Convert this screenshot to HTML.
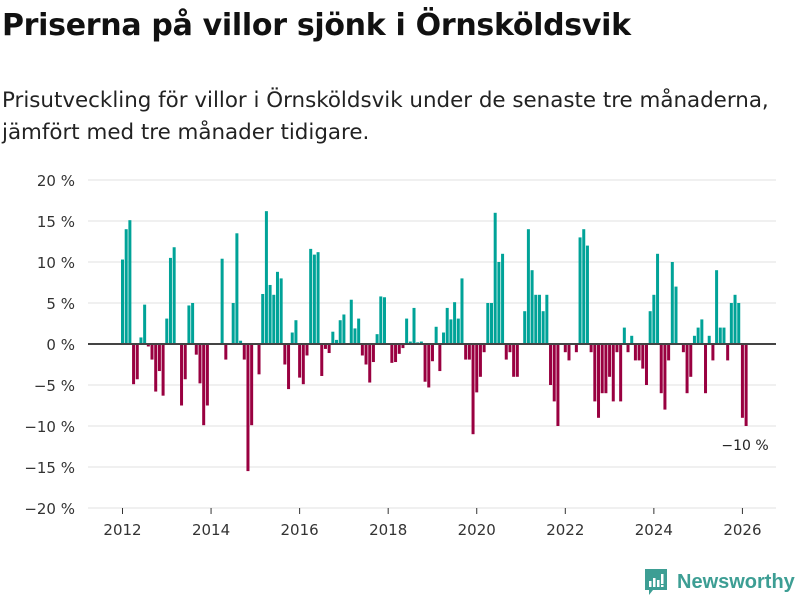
<!DOCTYPE html>
<html><head><meta charset="utf-8"><style>
body{margin:0;width:800px;height:600px;background:#fff;font-family:"DejaVu Sans","Liberation Sans",sans-serif;overflow:hidden;position:relative}
#title{position:absolute;left:2px;top:8px;font-size:30px;font-weight:bold;color:#111;margin:0;letter-spacing:-0.3px}
#sub{position:absolute;left:2px;top:85px;font-size:21.4px;line-height:32px;color:#222;margin:0;white-space:nowrap}
#logo{position:absolute;left:644px;top:568px;display:flex;align-items:center;color:#3d9e94;font-size:20px;font-weight:bold;font-family:"Liberation Sans",sans-serif}
</style></head><body>
<h1 id="title">Priserna på villor sjönk i Örnsköldsvik</h1>
<p id="sub">Prisutveckling för villor i Örnsköldsvik under de senaste tre månaderna,<br>jämfört med tre månader tidigare.</p>
<svg id="chart" width="800" height="600" style="position:absolute;left:0;top:0"></svg>
<div id="logo"><svg width="24" height="28" viewBox="0 0 24 28"><path d="M1 1h22v21H9l-4 5v-5H1z" fill="#3d9e94"/><rect x="5" y="13" width="2.5" height="6" fill="#fff"/><rect x="9" y="10" width="2.5" height="9" fill="#fff"/><rect x="13" y="12" width="2.5" height="7" fill="#fff"/><rect x="17" y="6" width="2.5" height="10" fill="#fff"/><rect x="17" y="17" width="2.5" height="2" fill="#fff"/></svg><span style="margin-left:9px">Newsworthy</span></div>
<script>
const values=[10.3,14,15.1,-4.9,-4.3,0.8,4.8,-0.3,-1.9,-5.8,-3.3,-6.3,3.1,10.5,11.8,0,-7.5,-4.3,4.7,5,-1.3,-4.8,-9.9,-7.5,0,0,0,10.4,-1.9,0,5,13.5,0.4,-1.9,-15.5,-9.9,0,-3.7,6.1,16.2,7.2,6.0,8.8,8.0,-2.5,-5.5,1.4,2.9,-4.1,-4.9,-1.4,11.6,10.9,11.2,-3.9,-0.6,-1.1,1.5,0.5,2.9,3.6,0,5.4,1.9,3.1,-1.4,-2.5,-4.7,-2.2,1.2,5.8,5.7,0,-2.3,-2.2,-1.2,-0.5,3.1,0.3,4.4,0.2,0.3,-4.6,-5.3,-2.1,2.1,-3.3,1.4,4.4,3.0,5.1,3.1,8.0,-1.9,-1.9,-11,-5.9,-4,-1,5,5,16,10,11,-1.9,-1,-4,-4,0,4,14,9,6,6,4,6,-5,-7,-10,0,-1,-2,0,-1,13,14,12,-1,-7,-9,-6,-6,-4,-7,-1,-7,2,-1,1,-2,-2,-3,-5,4,6,11,-6,-8,-2,10,7,0,-1,-6,-4,1,2,3,-6,1,-2,9,2,2,-2,5,6,5,-9,-10];
const yTicks=[20,15,10,5,0,-5,-10,-15,-20];
const xTicks=[2012,2014,2016,2018,2020,2022,2024,2026];
const startYear=2012;
const NS="http://www.w3.org/2000/svg";
const svg=document.getElementById('chart');
const y=v=>344-v*8.2;
const x=i=>121+i*3.69;
const xYear=yr=>x((yr-startYear)*12);
function mk(t,a){const e=document.createElementNS(NS,t);for(const k in a)e.setAttribute(k,a[k]);svg.appendChild(e);return e;}
yTicks.forEach(v=>{
 const g=mk('line',{x1:88,x2:776,y1:y(v),y2:y(v),stroke:'#e0e0e0','stroke-width':1});
 
 
 const t=mk('text',{x:75,y:y(v)+6,'text-anchor':'end','font-size':15,fill:'#333'});
 t.textContent=(v<0?'\u2212'+(-v):v)+' %';
 
 
});
xTicks.forEach(yr=>{
 const l=mk('line',{x1:xYear(yr)+1.5,x2:xYear(yr)+1.5,y1:508,y2:514,stroke:'#333'});
 
 
 const t=mk('text',{x:xYear(yr)+1.5,y:535,'text-anchor':'middle','font-size':15,fill:'#333'});
 t.textContent=yr;
 
 
});
values.forEach((v,i)=>{
 if(v===0)return;
 const r=mk('rect',{x:x(i),width:3,y:Math.min(y(v),y(0)),height:Math.abs(y(v)-y(0)),fill:v>0?'#00a398':'#990040'});
 
 
});
const z=mk('line',{x1:88,x2:776,y1:344,y2:344,stroke:'#444','stroke-width':2});


const last=values[values.length-1];
const lab=mk('text',{x:745,y:y(last)+24,'text-anchor':'middle','font-size':14,fill:'#222'});
lab.textContent='\u2212'+Math.abs(last)+' %';


</script>
</body></html>
